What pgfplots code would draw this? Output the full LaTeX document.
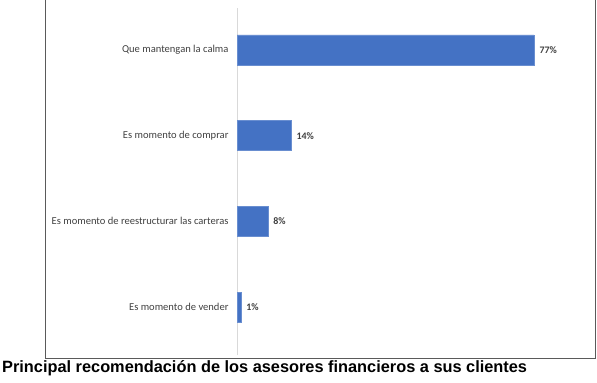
\documentclass[border=0pt]{standalone}
\usepackage{pgfplots}
\pgfplotsset{compat=1.18}
\usepackage{fontspec}
\setmainfont{Carlito}
\newfontfamily\titlefont{Liberation Sans}
\definecolor{barblue}{HTML}{4472C4}
\definecolor{labgray}{HTML}{404040}
\definecolor{axgray}{HTML}{D9D9D9}
\definecolor{framegray}{HTML}{5A5A5A}
\begin{document}
\begin{tikzpicture}
\useasboundingbox (0,0) rectangle (597bp,-383bp);
\draw[framegray, line width=1bp] (45bp,0) -- (45bp,-358bp) -- (595bp,-358bp) -- (595bp,0);
\begin{axis}[
  at={(237bp,-355bp)}, anchor=south west,
  scale only axis, width=330bp, height=347bp,
  xbar, bar width=30bp,
  xmin=0, xmax=85.56, ymin=-0.56, ymax=3.49,
  axis x line=none,
  axis y line*=left,
  y axis line style={axgray, line width=0.8bp},
  ytick={0,1,2,3},
  yticklabels={Es momento de vender, Es momento de reestructurar las carteras, Es momento de comprar, Que mantengan la calma},
  major tick length=0,
  yticklabel style={font=\fontsize{10.6}{12}\selectfont, text=labgray, xshift=-5bp},
  /pgf/number format/assume math mode=true,
  nodes near coords={\pgfmathprintnumber\pgfplotspointmeta\%},
  nodes near coords style={font=\fontsize{10}{11}\selectfont\bfseries, text=labgray, xshift=2bp},
  point meta=x,
  clip=false,
]
\addplot[fill=barblue, draw=barblue!80!white] coordinates {(77,3) (14,2) (8,1) (1,0)};
\end{axis}
\node[anchor=west, inner sep=0] at (2bp,-368bp) {\titlefont\bfseries\fontsize{16.4}{18}\selectfont Principal recomendación de los asesores financieros a sus clientes};
\end{tikzpicture}
\end{document}
